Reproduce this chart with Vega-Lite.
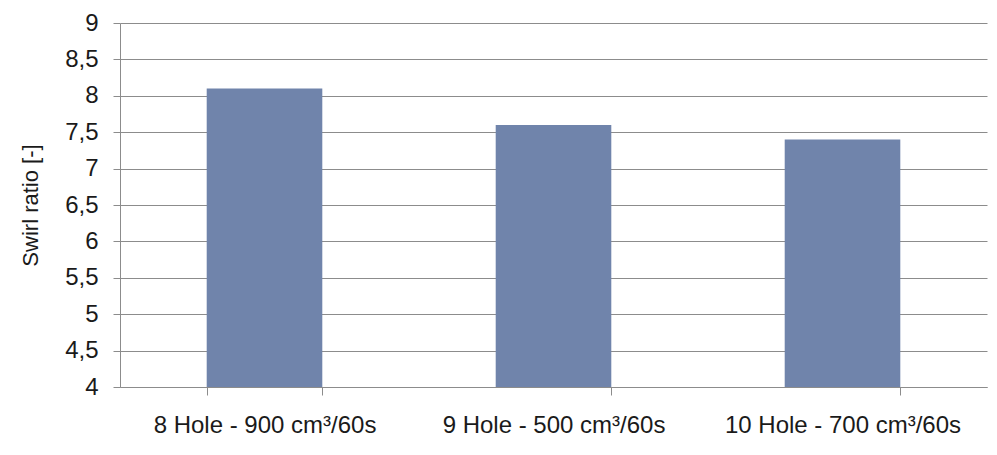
{
  "$schema": "https://vega.github.io/schema/vega-lite/v6.json",
  "autosize": "none",
  "width": 867,
  "height": 364,
  "padding": {"left": 120, "top": 23, "right": 10, "bottom": 68},
  "background": "white",
  "config": {"view": {"stroke": null}, "font": "Liberation Sans"},
  "data": {"values": [
    {"config": "8 Hole - 900 cm³/60s", "swirl": 8.1},
    {"config": "9 Hole - 500 cm³/60s", "swirl": 7.6},
    {"config": "10 Hole - 700 cm³/60s", "swirl": 7.4}
  ]},
  "mark": {"type": "bar", "color": "#7084AB"},
  "encoding": {
    "x": {
      "field": "config", "type": "nominal", "sort": null,
      "scale": {"paddingInner": 0.6, "paddingOuter": 0.3},
      "axis": {
        "title": null, "labelAngle": 0, "labelFontSize": 24, "labelColor": "#1a1a1a",
        "labelPadding": 18, "labelLimit": 400, "tickBand": "extent", "tickSize": 8, "tickColor": "#8c8c8c",
        "domainColor": "#8c8c8c", "grid": false, "labelFont": "Liberation Sans"
      }
    },
    "y": {
      "field": "swirl", "type": "quantitative",
      "scale": {"domain": [4, 9], "zero": false, "nice": false},
      "axis": {
        "title": "Swirl ratio [-]", "titleFontSize": 22, "titleFontWeight": "normal",
        "titleColor": "#1a1a1a", "titlePadding": 22, "titleFont": "Liberation Sans",
        "values": [4, 4.5, 5, 5.5, 6, 6.5, 7, 7.5, 8, 8.5, 9],
        "labelExpr": "replace(format(datum.value, '~g'), '.', ',')",
        "labelFontSize": 24, "labelColor": "#1a1a1a", "labelPadding": 15,
        "tickSize": 7, "tickColor": "#8c8c8c", "domainColor": "#8c8c8c",
        "gridColor": "#8c8c8c", "gridWidth": 1, "labelFont": "Liberation Sans"
      }
    },
    "y2": {"datum": 4}
  }
}
